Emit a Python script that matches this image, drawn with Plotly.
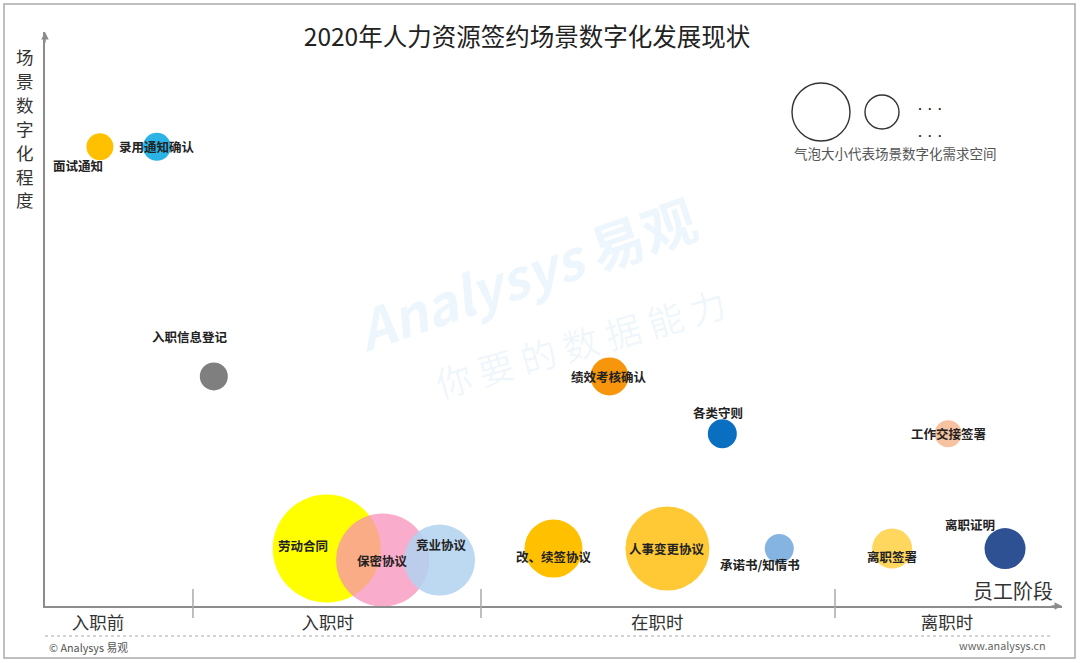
"""
2020年人力资源签约场景数字化发展现状 - 气泡图
x : 员工阶段（0-100），y : 场景数字化程度（0-100），气泡大小 : 需求空间
"""

import plotly.graph_objects as go

# ---------------------------------------------------------------- données
scenes = ["面试通知", "录用通知确认", "入职信息登记", "劳动合同", "保密协议", "竞业协议",
          "改、续签协议", "绩效考核确认", "人事变更协议", "各类守则", "承诺书/知情书",
          "离职签署", "工作交接签署", "离职证明"]
stage_pos = [5.4, 11.0, 16.6, 27.7, 33.2, 38.8, 50.0, 55.5, 61.2, 66.6, 72.2, 83.3, 88.8, 94.4]
digital_level = [80, 80, 40, 10, 8, 8, 10, 40, 10, 30, 10, 10, 30, 10]
demand_space = [27, 28, 28, 108, 93, 71, 58, 38, 84, 29, 29, 40, 27, 41]

stages = ["入职前", "入职时", "在职时", "离职时"]
stage_centers = [5.2, 27.8, 60.2, 88.7]
stage_bounds = [14.55, 42.87, 77.68]

# couleurs des bulles (style, hors données)
colors = ["#FFC000", "#2BB3E6", "#7F7F7F", "#FFFF00", "rgba(246,140,185,0.72)",
          "rgba(178,210,240,0.85)", "#FFC000", "#F7960C", "#FFC936", "#0A6FC0",
          "#85B4E2", "#FFD75E", "#F6C2A0", "#2E5193"]

# décalage des étiquettes par rapport au centre de la bulle (px)
label_shift = {
    "面试通知": (-22, -19), "入职信息登记": (-24, 40), "劳动合同": (-24, 3),
    "竞业协议": (2, 16), "改、续签协议": (0, -8), "各类守则": (-4, 21),
    "承诺书/知情书": (-19, -16), "离职签署": (0, -8), "离职证明": (-35, 24),
}

# zone de tracé en pixels
L, R, T, B = 45, 1062, 32, 606
W, H = R - L, B - T


def xp(px):
    return (px - L) / W


def yp(py):
    return (B - py) / H


def note(px, py, text, size, color, **kw):
    """Annotation texte positionnée en pixels (coordonnées paper)."""
    d = dict(x=xp(px), y=yp(py), xref="paper", yref="paper", text=text,
             showarrow=False, xanchor="center", yanchor="middle",
             font=dict(family=FONT, size=size, color=color))
    d.update(kw)
    return d


FONT = "Noto Sans CJK SC"
AXIS_GREY = "#8c8c8c"

fig = go.Figure()

fig.add_trace(go.Scatter(
    x=stage_pos, y=digital_level, mode="markers",
    marker=dict(size=demand_space, sizemode="diameter", sizeref=1, opacity=1,
                color=colors, line=dict(width=0)),
    hoverinfo="text", text=scenes, showlegend=False,
))

# légende des tailles : deux cercles vides
fig.add_trace(go.Scatter(
    x=[xp(821) * 100, xp(882) * 100], y=[yp(112) * 100, yp(112) * 100],
    mode="markers", hoverinfo="skip", showlegend=False,
    marker=dict(size=[58, 34], sizemode="diameter", color="white", opacity=1,
                line=dict(color="#333", width=1.4)),
))

annotations = []
for name, x, y in zip(scenes, stage_pos, digital_level):
    dx, dy = label_shift.get(name, (0, 0))
    annotations.append(dict(
        x=x, y=y, xref="x", yref="y", text=f"<b>{name}</b>", showarrow=False,
        xanchor="center", yanchor="middle",
        xshift=dx, yshift=dy, font=dict(family=FONT, size=12.5, color="#222"),
    ))

# flèches des axes
annotations.append(dict(x=100, y=0, xref="x", yref="y", ax=-12, ay=0, text="",
                        showarrow=True, arrowhead=2, arrowsize=1, arrowwidth=1.5,
                        arrowcolor=AXIS_GREY))
annotations.append(dict(x=0, y=100, xref="x", yref="y", ax=0, ay=12, text="",
                        showarrow=True, arrowhead=2, arrowsize=1, arrowwidth=1.5,
                        arrowcolor=AXIS_GREY))

# titres des axes (titre vertical : un caractère par ligne)
for i, ch in enumerate("场景数字化程度"):
    annotations.append(note(25, 57 + i * 23.8, ch, 17.5, "#333"))
annotations.append(note(1013, 590, "员工阶段", 20, "#333"))

# légende des tailles : texte et points de suspension
annotations.append(note(895, 153, "气泡大小代表场景数字化需求空间", 13.5, "#555"))
for py in (108, 135):
    annotations.append(note(930, py, "<b>• • •</b>", 8, "#222"))

# filigrane
annotations.append(note(525, 272, "<b><i>Analysys</i> 易观</b>", 54,
                        "rgba(90,175,230,0.11)", textangle=-19))
annotations.append(note(580, 342, "你 要 的 数 据 能 力", 36,
                        "rgba(90,160,220,0.09)", textangle=-16))

# pied de page
annotations.append(note(47, 647, "© Analysys 易观", 10.8, "#555", xanchor="left"))
annotations.append(note(1048, 645, "www.analysys.cn", 10.8, "#666", xanchor="right"))

shapes = []
# séparateurs des étapes
for xb in stage_bounds:
    shapes.append(dict(type="line", xref="x", yref="paper", x0=xb, x1=xb,
                       y0=yp(589), y1=yp(618), line=dict(color="#aaa", width=1.5)))
# ligne pointillée du pied de page
shapes.append(dict(type="line", xref="paper", yref="paper", x0=0, x1=xp(1050),
                   y0=yp(636), y1=yp(636), line=dict(color="#aaa", width=1, dash="dot")))
# cadre
shapes.append(dict(type="rect", xref="paper", yref="paper", x0=xp(4), x1=xp(1075),
                   y0=yp(658), y1=yp(4), line=dict(color="#aaa", width=1.5)))

fig.update_layout(
    width=1080, height=663,
    margin=dict(l=L, r=1080 - R, t=T, b=663 - B),
    paper_bgcolor="white", plot_bgcolor="white",
    title=dict(text="2020年人力资源签约场景数字化发展现状", x=527 / 1080, y=1 - 37 / 663,
               xref="container", yref="container", xanchor="center", yanchor="middle",
               font=dict(family=FONT, size=24.5, color="#222")),
    xaxis=dict(range=[0, 100], showgrid=False, zeroline=False, showline=True,
               linecolor=AXIS_GREY, linewidth=1.5, ticks="",
               tickvals=stage_centers, ticktext=stages,
               tickfont=dict(family=FONT, size=17.5, color="#333")),
    yaxis=dict(range=[0, 100], showgrid=False, zeroline=False, showline=True,
               linecolor=AXIS_GREY, linewidth=1.5, showticklabels=False, ticks=""),
    annotations=annotations, shapes=shapes, showlegend=False,
)

fig.write_html("out.html", config={"displayModeBar": False},
               post_script="document.body.style.margin='0';")
